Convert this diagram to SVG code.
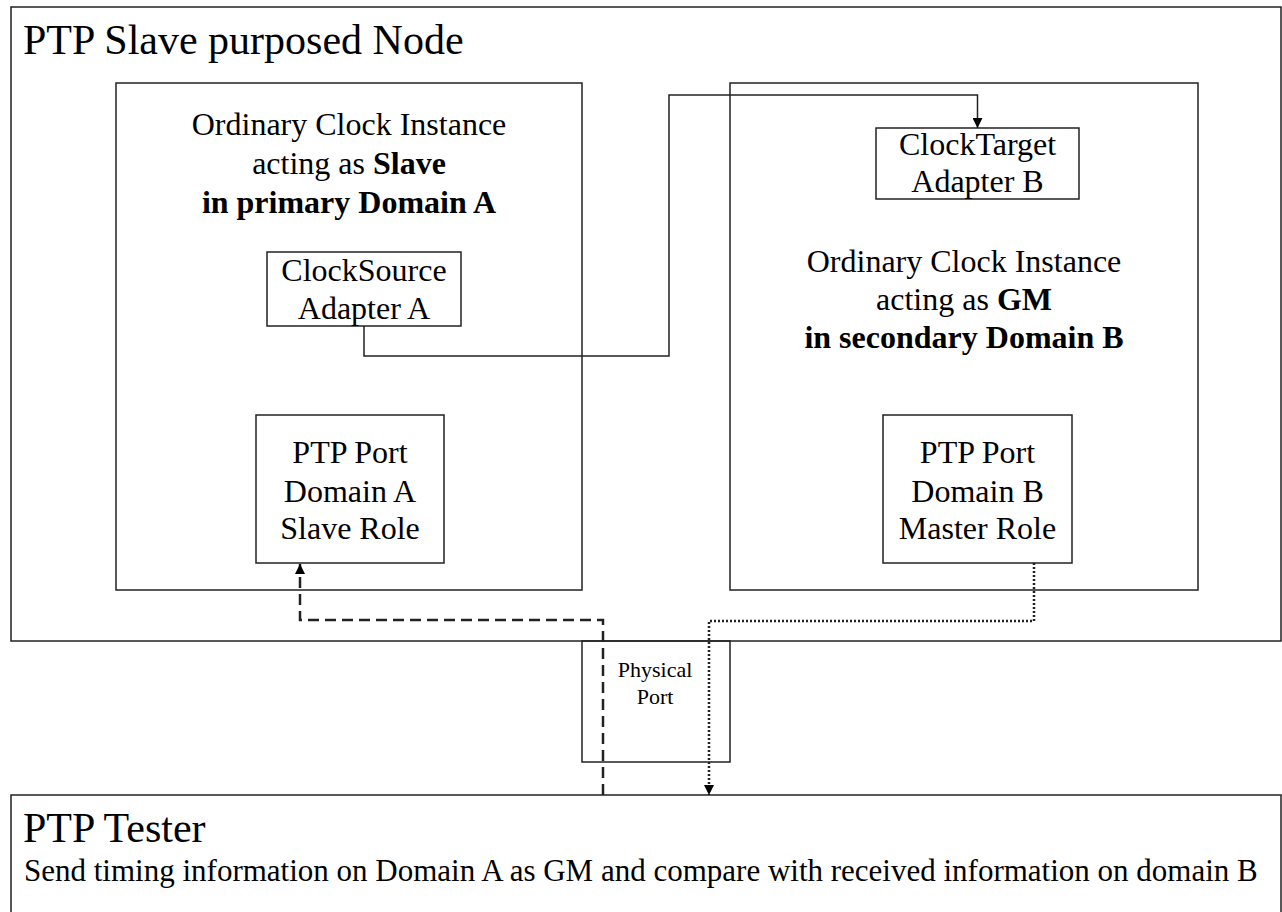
<svg xmlns="http://www.w3.org/2000/svg" width="1282" height="912" viewBox="0 0 1282 912">
  <defs>
    <style>
      .box { fill: none; stroke: #222; stroke-width: 1.5; }
      .t { font-family: "Liberation Serif", "Times New Roman", serif; fill: #000; }
      .c { text-anchor: middle; font-size: 32px; }
      .b { font-weight: bold; }
      .title { font-size: 42px; }
      .solid { fill: none; stroke: #222; stroke-width: 1.5; }
      .dash { fill: none; stroke: #222; stroke-width: 2.5; stroke-dasharray: 11 6; }
      .dot { fill: none; stroke: #222; stroke-width: 2.5; stroke-dasharray: 2 2; }
    </style>
    <marker id="arr" viewBox="0 0 10 10" refX="10" refY="5" markerWidth="10" markerHeight="10" markerUnits="userSpaceOnUse" orient="auto">
      <path d="M0,0 L10,5 L0,10 Z" fill="#000"/>
    </marker>
  </defs>
  <rect width="1282" height="912" fill="#fff"/>

  <g id="node-slave">
    <rect class="box" x="11" y="7" width="1270" height="634"/>
    <text class="t title" x="23" y="54">PTP Slave purposed Node</text>
  </g>

  <g id="instance-a">
    <rect class="box" x="116" y="83" width="466" height="507"/>
    <text class="t c" x="349" y="135">Ordinary Clock Instance</text>
    <text class="t c" x="349" y="174">acting as <tspan class="b">Slave</tspan></text>
    <text class="t c b" x="349" y="213">in primary Domain A</text>
  </g>

  <g id="clocksource">
    <rect class="box" x="267" y="252" width="194" height="74"/>
    <text class="t c" x="364" y="281">ClockSource</text>
    <text class="t c" x="364" y="319">Adapter A</text>
  </g>

  <g id="port-a">
    <rect class="box" x="256" y="415" width="188" height="148"/>
    <text class="t c" x="350" y="463">PTP Port</text>
    <text class="t c" x="350" y="502">Domain A</text>
    <text class="t c" x="350" y="539">Slave Role</text>
  </g>

  <g id="instance-b">
    <rect class="box" x="730" y="83" width="468" height="507"/>
    <text class="t c" x="964" y="272">Ordinary Clock Instance</text>
    <text class="t c" x="964" y="310">acting as <tspan class="b">GM</tspan></text>
    <text class="t c b" x="964" y="348">in secondary Domain B</text>
  </g>

  <g id="clocktarget">
    <rect class="box" x="876" y="128" width="203" height="71"/>
    <text class="t c" x="977.5" y="155">ClockTarget</text>
    <text class="t c" x="977.5" y="192">Adapter B</text>
  </g>

  <g id="port-b">
    <rect class="box" x="883" y="415" width="189" height="148"/>
    <text class="t c" x="977.5" y="463">PTP Port</text>
    <text class="t c" x="977.5" y="502">Domain B</text>
    <text class="t c" x="977.5" y="539">Master Role</text>
  </g>

  <g id="physical-port">
    <rect class="box" x="582" y="641" width="148" height="121"/>
    <text class="t" x="655" y="677" font-size="22" text-anchor="middle">Physical</text>
    <text class="t" x="655" y="704" font-size="22" text-anchor="middle">Port</text>
  </g>

  <g id="tester">
    <rect class="box" x="11" y="795" width="1270" height="130"/>
    <text class="t title" x="23" y="842">PTP Tester</text>
    <text class="t" x="24" y="881" font-size="31">Send timing information on Domain A as GM and compare with received information on domain B</text>
  </g>

  <g id="connectors">
    <path class="solid" d="M364,326 V356 H669 V95 H977.5 V128" marker-end="url(#arr)"/>
    <path class="dash" d="M603,795 V620 H300 V564" marker-end="url(#arr)"/>
    <path class="dot" d="M1034,563 V621 H709 V795" marker-end="url(#arr)"/>
  </g>
</svg>
